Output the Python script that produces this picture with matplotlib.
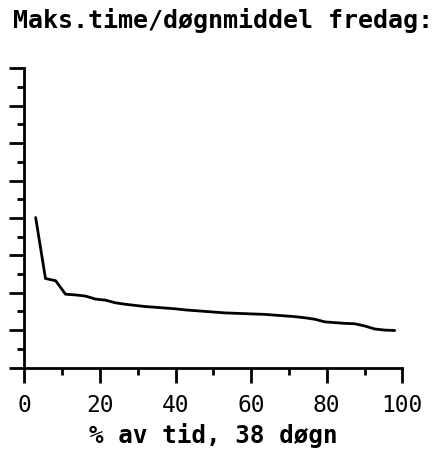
import matplotlib
matplotlib.use("Agg")
import matplotlib.pyplot as plt
from matplotlib.ticker import MultipleLocator

# ── Data: duration curve, max hour / daily mean, Fridays ─────────────────────
PCT_OF_TIME = [3.0, 5.6, 8.3, 10.9, 13.6, 16.2, 18.8, 21.5, 24.1, 26.8,
               29.4, 32.0, 34.7, 37.3, 39.9, 42.6, 45.2, 47.9, 50.5, 53.1,
               55.8, 58.4, 61.1, 63.7, 66.3, 69.0, 71.6, 74.2, 76.9, 79.5,
               82.2, 84.8, 87.4, 90.1, 92.7, 95.4, 98.0]
RATIO = [4.01, 2.38, 2.32, 1.96, 1.94, 1.91, 1.83, 1.80, 1.73, 1.69,
         1.66, 1.63, 1.61, 1.59, 1.57, 1.54, 1.52, 1.50, 1.48, 1.46,
         1.45, 1.44, 1.43, 1.42, 1.40, 1.38, 1.36, 1.33, 1.29, 1.22,
         1.20, 1.18, 1.17, 1.11, 1.03, 1.00, 0.99]
X_TICKS = [0, 20, 40, 60, 80, 100]

TITLE = "Maks.time/døgnmiddel fredag:"
XLABEL = "% av tid, 38 døgn"
FONT = "DejaVu Sans Mono"

fig = plt.figure(figsize=(4.47, 4.52), dpi=100, facecolor="white")
ax = fig.add_axes([0.0544, 0.1847, 0.8456, 0.662])

ax.plot(PCT_OF_TIME, RATIO, color="black", linewidth=2.0,
        solid_joinstyle="round", solid_capstyle="round")

ax.set_xlim(0, 100)
ax.set_ylim(0, 8)

for side in ("top", "right"):
    ax.spines[side].set_visible(False)
for side in ("left", "bottom"):
    ax.spines[side].set_linewidth(2.0)

ax.set_xticks(X_TICKS)
ax.xaxis.set_minor_locator(MultipleLocator(10))
ax.yaxis.set_major_locator(MultipleLocator(1))
ax.yaxis.set_minor_locator(MultipleLocator(0.5))
ax.set_yticklabels([])

ax.tick_params(axis="x", which="major", direction="out", length=11,
               width=2, pad=7, labelsize=16.5)
ax.tick_params(axis="x", which="minor", direction="out", length=5, width=2)
ax.tick_params(axis="y", which="major", direction="out", length=11, width=2)
ax.tick_params(axis="y", which="minor", direction="out", length=5, width=2)
for lbl in ax.get_xticklabels():
    lbl.set_family(FONT)

ax.set_xlabel(XLABEL, fontsize=17.5, family=FONT, fontweight="bold",
              labelpad=5)

fig.text(0.029, 0.955, TITLE, fontsize=18, family=FONT, fontweight="bold",
         ha="left", va="center")

fig.savefig("out.png", dpi=100, facecolor="white")
